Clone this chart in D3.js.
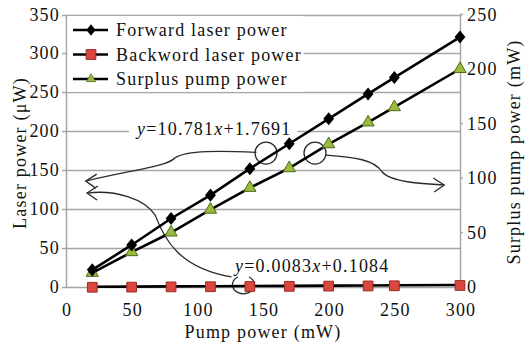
<!DOCTYPE html>
<html>
<head>
<meta charset="utf-8">
<script src="https://cdn.jsdelivr.net/npm/d3@7"></script>
<style>
  html, body { margin: 0; padding: 0; background: #fff; }
  svg text { font-family: "Liberation Serif", "Times New Roman", serif; fill: #111; letter-spacing: 1.2px; }
</style>
</head>
<body>
<div id="chart"></div>
<script>
// pump power (mW)
const pumpPower = [20, 50, 80, 110, 140, 170, 200, 230, 250, 300];
// laser power (uW), left axis
const forwardLaser = [22, 54, 88, 118, 152, 184, 216, 248, 269, 321];
const backwardLaser = [0.3, 0.5, 0.8, 1.0, 1.3, 1.5, 1.8, 2.0, 2.2, 2.6];
// surplus pump power (mW), right axis
const surplusPump = [13, 32, 50, 71, 91, 109, 131, 151, 165, 200];

const xTicks = [0, 50, 100, 150, 200, 250, 300];
const leftTicks = [0, 50, 100, 150, 200, 250, 300, 350];
const rightTicks = [0, 50, 100, 150, 200, 250];

const legendLabels = ['Forward laser power', 'Backword laser power', 'Surplus pump power'];

const width = 525, height = 345;
const plot = { left: 66, right: 460, top: 14.5, bottom: 287 };

const x = d3.scaleLinear().domain([0, 300]).range([plot.left, plot.right]);
const yL = d3.scaleLinear().domain([0, 350]).range([plot.bottom, plot.top]);
const yR = d3.scaleLinear().domain([0, 250]).range([plot.bottom, plot.top]);

const svg = d3.select('#chart').append('svg')
	.attr('width', width)
	.attr('height', height);

const gridColor = '#a6a6a6';

// gridlines (left axis)
svg.append('g').attr('class', 'grid')
	.selectAll('line')
	.data(leftTicks)
	.enter()
		.append('line')
		.attr('x1', plot.left - 4)
		.attr('x2', plot.right)
		.attr('y1', d => Math.round(yL(d)) + 0.5)
		.attr('y2', d => Math.round(yL(d)) + 0.5)
		.attr('stroke', gridColor)
		.attr('stroke-width', 1.3);

// plot frame sides
svg.append('line')
	.attr('x1', plot.left + 0.5).attr('x2', plot.left + 0.5)
	.attr('y1', yL(350)).attr('y2', plot.bottom)
	.attr('stroke', gridColor).attr('stroke-width', 1.5);
svg.append('line')
	.attr('x1', plot.right + 0.5).attr('x2', plot.right + 0.5)
	.attr('y1', yR(250)).attr('y2', plot.bottom)
	.attr('stroke', gridColor).attr('stroke-width', 1.5);

// right axis ticks
svg.append('g')
	.selectAll('line')
	.data(rightTicks)
	.enter()
		.append('line')
		.attr('x1', plot.right)
		.attr('x2', plot.right + 3)
		.attr('y1', d => yR(d))
		.attr('y2', d => yR(d))
		.attr('stroke', gridColor)
		.attr('stroke-width', 1.5);

// tick labels
svg.append('g')
	.selectAll('text')
	.data(leftTicks)
	.enter()
		.append('text')
		.attr('x', 60)
		.attr('y', d => yL(d) + 6)
		.attr('text-anchor', 'end')
		.attr('font-size', 18)
		.text(d => d);

svg.append('g')
	.selectAll('text')
	.data(rightTicks)
	.enter()
		.append('text')
		.attr('x', 467)
		.attr('y', d => yR(d) + 6)
		.attr('font-size', 18)
		.text(d => d);

svg.append('g')
	.selectAll('text')
	.data(xTicks)
	.enter()
		.append('text')
		.attr('x', d => x(d) + 1)
		.attr('y', 316)
		.attr('text-anchor', 'middle')
		.attr('font-size', 18)
		.text(d => d);

// axis titles
svg.append('text')
	.attr('x', 263).attr('y', 338)
	.attr('text-anchor', 'middle')
	.attr('font-size', 18)
	.text('Pump power (mW)');
svg.append('text')
	.attr('transform', 'translate(26,153) rotate(-90)')
	.attr('text-anchor', 'middle')
	.attr('font-size', 18)
	.text('Laser power (\u03bcW)');
svg.append('text')
	.attr('transform', 'translate(520,152) rotate(-90)')
	.attr('text-anchor', 'middle')
	.attr('font-size', 18)
	.text('Surplus pump power (mW)');

// legend box (hides the grid underneath)
const legend = svg.append('g').attr('class', 'legend');
legend.append('rect')
	.attr('x', plot.left + 1.5)
	.attr('y', yL(350) + 1.5)
	.attr('width', 236)
	.attr('height', yL(250) - yL(350) - 2)
	.attr('fill', '#fff');

// annotation: points in data units (pump mW, laser uW)
const ann = (a, b) => [x(a), yL(b)];
const curvePath = (pts) => {
	const p = pts.map(d => ann(d[0], d[1]));
	return `M${p[0]}C${p[1]} ${p[2]} ${p[3]}C${p[4]} ${p[5]} ${p[6]}`;
};
const upperCurve = [[145, 173], [118, 175], [92, 176], [83, 166], [78, 155], [49, 150], [15, 136]];
const rightCurve = [[198, 169.5], [220, 167], [235, 163], [240.6, 148], [247, 135], [270, 132.5], [288, 131]];
const lowerCurve = [[126, 13], [87, 24], [75, 60], [68, 92], [60, 114], [37, 125], [16, 120.7]];

const annG = svg.append('g')
	.attr('fill', 'none')
	.attr('stroke', '#2a2a2a')
	.attr('stroke-width', 1.3);

[upperCurve, rightCurve, lowerCurve].forEach(c => {
	annG.append('path').attr('d', curvePath(c));
});

const arrowHead = (tip, dir) => {
	const [tx, ty] = ann(tip[0], tip[1]);
	annG.append('path')
		.attr('d', `M${tx + dir * 11},${ty - 7}L${tx},${ty}L${tx + dir * 10},${ty + 7}`);
};
arrowHead(upperCurve[6], 1);
arrowHead(lowerCurve[6], 1);
arrowHead(rightCurve[6], -1);

annG.append('circle').attr('cx', ann(152.3, 172)[0]).attr('cy', ann(152.3, 172)[1]).attr('r', 11);
annG.append('circle').attr('cx', ann(189.6, 172)[0]).attr('cy', ann(189.6, 172)[1]).attr('r', 11);
annG.append('path')
	.attr('d', () => {
		const [cx, cy] = ann(137, 1.3);
		return `M${cx - 8},${cy - 9}A11,9 0 1 0 ${cx + 3},${cy - 9}`;
	});

// series lines
const lineL = d3.line().x((d, i) => x(pumpPower[i])).y(d => yL(d));
const lineR = d3.line().x((d, i) => x(pumpPower[i])).y(d => yR(d));

const seriesG = svg.append('g');
seriesG.append('path').attr('d', lineL(backwardLaser))
	.attr('fill', 'none').attr('stroke', '#000').attr('stroke-width', 2.6);
seriesG.append('path').attr('d', lineR(surplusPump))
	.attr('fill', 'none').attr('stroke', '#000').attr('stroke-width', 2.6);
seriesG.append('path').attr('d', lineL(forwardLaser))
	.attr('fill', 'none').attr('stroke', '#000').attr('stroke-width', 2.6);

// markers
const diamond = d3.symbol().type(d3.symbolDiamond2).size(75);
const square = d3.symbol().type(d3.symbolSquare).size(95);
const triangle = d3.symbol().type(d3.symbolTriangle).size(65);

const squareStyle = s => s.attr('fill', '#d9473f').attr('stroke', '#9a2b26').attr('stroke-width', 1);
const triStyle = s => s.attr('fill', '#9bbb3f').attr('stroke', '#4d6a1c').attr('stroke-width', 1);
const diaStyle = s => s.attr('fill', '#000');

seriesG.selectAll('.bw')
	.data(backwardLaser)
	.enter()
		.append('path')
		.attr('class', 'bw')
		.attr('d', square)
		.attr('transform', (d, i) => `translate(${x(pumpPower[i])},${yL(d) + 0.5})`)
		.call(squareStyle);

seriesG.selectAll('.sp')
	.data(surplusPump)
	.enter()
		.append('path')
		.attr('class', 'sp')
		.attr('d', triangle)
		.attr('transform', (d, i) => `translate(${x(pumpPower[i])},${yR(d)})`)
		.call(triStyle);

seriesG.selectAll('.fw')
	.data(forwardLaser)
	.enter()
		.append('path')
		.attr('class', 'fw')
		.attr('d', diamond)
		.attr('transform', (d, i) => `translate(${x(pumpPower[i])},${yL(d)}) scale(1,1.2)`)
		.call(diaStyle);

// equations (white backdrop hides the grid)
const eq = (tx, ty, parts, bg) => {
	const t = svg.append('text')
		.attr('x', tx).attr('y', ty)
		.attr('font-size', 18);
	parts.forEach(p => {
		t.append('tspan')
			.attr('font-style', p.i ? 'italic' : 'normal')
			.text(p.s);
	});
	if (bg) {
		const b = t.node().getBBox();
		svg.insert('rect', '.legend')
			.attr('x', b.x - 6).attr('y', b.y + 2)
			.attr('width', b.width + 12).attr('height', b.height - 4)
			.attr('fill', '#fff');
	}
};
eq(137, 135, [{ s: 'y', i: 1 }, { s: '=10.781' }, { s: 'x', i: 1 }, { s: '+1.7691' }], true);
eq(235, 272, [{ s: 'y', i: 1 }, { s: '=0.0083' }, { s: 'x', i: 1 }, { s: '+0.1084' }], false);

// legend entries
const legendRows = [
	{ y: 30, marker: diamond, style: diaStyle, scale: 'scale(0.85,1.05)' },
	{ y: 54.5, marker: square, style: squareStyle, scale: 'scale(1)' },
	{ y: 79, marker: triangle, style: triStyle, scale: 'scale(0.75)' }
];
legendRows.forEach((r, i) => {
	legend.append('line')
		.attr('x1', 73).attr('x2', 108)
		.attr('y1', r.y).attr('y2', r.y)
		.attr('stroke', '#000').attr('stroke-width', 2.6);
	legend.append('path')
		.attr('d', r.marker)
		.attr('transform', `translate(91,${r.y}) ${r.scale}`)
		.call(r.style);
	legend.append('text')
		.attr('x', 116).attr('y', r.y + 6)
		.attr('font-size', 18)
		.text(legendLabels[i]);
});
</script>
</body>
</html>
